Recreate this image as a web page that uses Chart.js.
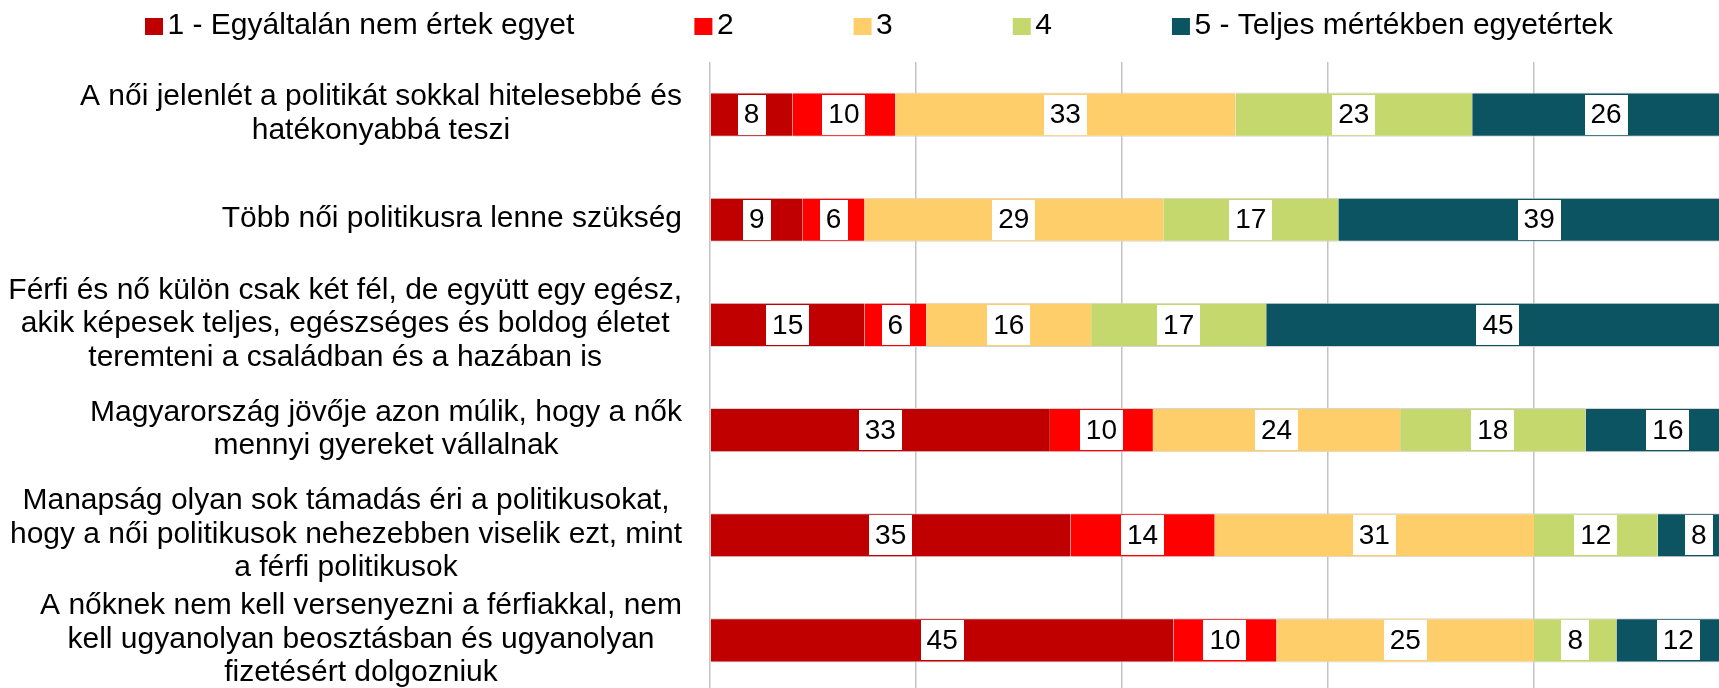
<!DOCTYPE html>
<html>
<head>
<meta charset="utf-8">
<script src="https://cdn.jsdelivr.net/npm/chart.js@4.4.1/dist/chart.umd.min.js"></script>
<style>
  html, body { margin: 0; padding: 0; overflow: hidden; background: #fff; }
  #wrap { width: 1740px; height: 693px; position: relative; }
</style>
</head>
<body>
<div id="wrap"><canvas id="myChart"></canvas></div>
<script>
// Statements (y categories), each as its wrapped lines
const categories = [
  ["A női jelenlét a politikát sokkal hitelesebbé és", "hatékonyabbá teszi"],
  ["Több női politikusra lenne szükség"],
  ["Férfi és nő külön csak két fél, de együtt egy egész,", "akik képesek teljes, egészséges és boldog életet", "teremteni a családban és a hazában is"],
  ["Magyarország jövője azon múlik, hogy a nők", "mennyi gyereket vállalnak"],
  ["Manapság olyan sok támadás éri a politikusokat,", "hogy a női politikusok nehezebben viselik ezt, mint", "a férfi politikusok"],
  ["A nőknek nem kell versenyezni a férfiakkal, nem", "kell ugyanolyan beosztásban és ugyanolyan", "fizetésért dolgozniuk"]
];

const seriesNames = ["1 - Egyáltalán nem értek egyet", "2", "3", "4", "5 - Teljes mértékben egyetértek"];

// Percentages per answer
const answer1 = [8, 9, 15, 33, 35, 45];
const answer2 = [10, 6, 6, 10, 14, 10];
const answer3 = [33, 29, 16, 24, 31, 25];
const answer4 = [23, 17, 17, 18, 12, 8];
const answer5 = [26, 39, 45, 16, 8, 12];

const xMin = 0;
const xMax = 100;
const xStep = 20;

const colors = ["#C00000", "#FF0000", "#FECE6A", "#C4D86E", "#0D5462"];

const LABEL_FONT = '30px "Liberation Sans", Arial, sans-serif';
const VALUE_FONT = '28px "Liberation Sans", Arial, sans-serif';

// Draws the statement texts left of the bars (lines centered in a right-aligned block)
const categoryLabels = {
  id: "categoryLabels",
  afterDraw(chart) {
    const ctx = chart.ctx;
    const yScale = chart.scales.y;
    const area = chart.chartArea;
    ctx.save();
    ctx.font = LABEL_FONT;
    ctx.fillStyle = "#000";
    ctx.textAlign = "center";
    ctx.textBaseline = "middle";
    categories.forEach((lines, i) => {
      const y = yScale.getPixelForValue(i);
      const maxW = Math.max(...lines.map(l => ctx.measureText(l).width));
      const cx = area.left - 28 - maxW / 2;
      const lineH = 33.5;
      lines.forEach((line, j) => {
        const ly = y + (j - (lines.length - 1) / 2) * lineH - 1;
        ctx.fillText(line, cx, ly);
      });
    });
    ctx.restore();
  }
};

// White boxes with the value in the middle of each segment
const valueLabels = {
  id: "valueLabels",
  afterDatasetsDraw(chart) {
    const ctx = chart.ctx;
    ctx.save();
    ctx.font = VALUE_FONT;
    ctx.textAlign = "center";
    ctx.textBaseline = "middle";
    chart.data.datasets.forEach((ds, di) => {
      const meta = chart.getDatasetMeta(di);
      meta.data.forEach((bar, i) => {
        const v = ds.data[i];
        if (!v) return;
        const text = String(v);
        const cx = (bar.x + bar.base) / 2;
        const w = ctx.measureText(text).width + 12;
        const h = 40;
        ctx.fillStyle = "#fff";
        ctx.fillRect(Math.round(cx - w / 2), Math.round(bar.y - h / 2), Math.round(w), h);
        ctx.fillStyle = "#000";
        ctx.fillText(text, cx, bar.y + 1);
      });
    });
    ctx.restore();
  }
};

// Legend row on top
const topLegend = {
  id: "topLegend",
  afterDraw(chart) {
    const ctx = chart.ctx;
    ctx.save();
    ctx.font = LABEL_FONT;
    ctx.textAlign = "left";
    ctx.textBaseline = "middle";
    let x = 145;
    chart.data.datasets.forEach(ds => {
      ctx.fillStyle = ds.backgroundColor;
      ctx.fillRect(x, 18, 18, 17);
      ctx.fillStyle = "#000";
      ctx.fillText(ds.label, x + 22.5, 26);
      x += 22.5 + ctx.measureText(ds.label).width + 120;
    });
    ctx.restore();
  }
};

const answers = [answer1, answer2, answer3, answer4, answer5];

const ctx = document.getElementById("myChart").getContext("2d");

new Chart(ctx, {
  type: "bar",
  data: {
    labels: categories,
    datasets: answers.map((vals, k) => ({
      label: seriesNames[k],
      data: vals,
      backgroundColor: colors[k],
      borderColor: "#d4d4d4",
      borderWidth: { top: 1, bottom: 1, left: 0, right: 0 },
      borderSkipped: false,
      barPercentage: 0.42,
      categoryPercentage: 1
    }))
  },
  options: {
    indexAxis: "y",
    responsive: true,
    maintainAspectRatio: false,
    animation: false,
    devicePixelRatio: 1,
    layout: {
      padding: { left: 710, top: 62, right: 0, bottom: 0 }
    },
    plugins: {
      legend: { display: false },
      tooltip: { enabled: false },
      title: { display: false }
    },
    scales: {
      x: {
        stacked: true,
        min: xMin,
        max: xMax,
        ticks: { display: false, stepSize: xStep },
        grid: { color: "#c4c4c4", lineWidth: 1.5, drawTicks: false },
        border: { display: false }
      },
      y: {
        stacked: true,
        display: false
      }
    }
  },
  plugins: [categoryLabels, valueLabels, topLegend]
});
</script>
</body>
</html>
